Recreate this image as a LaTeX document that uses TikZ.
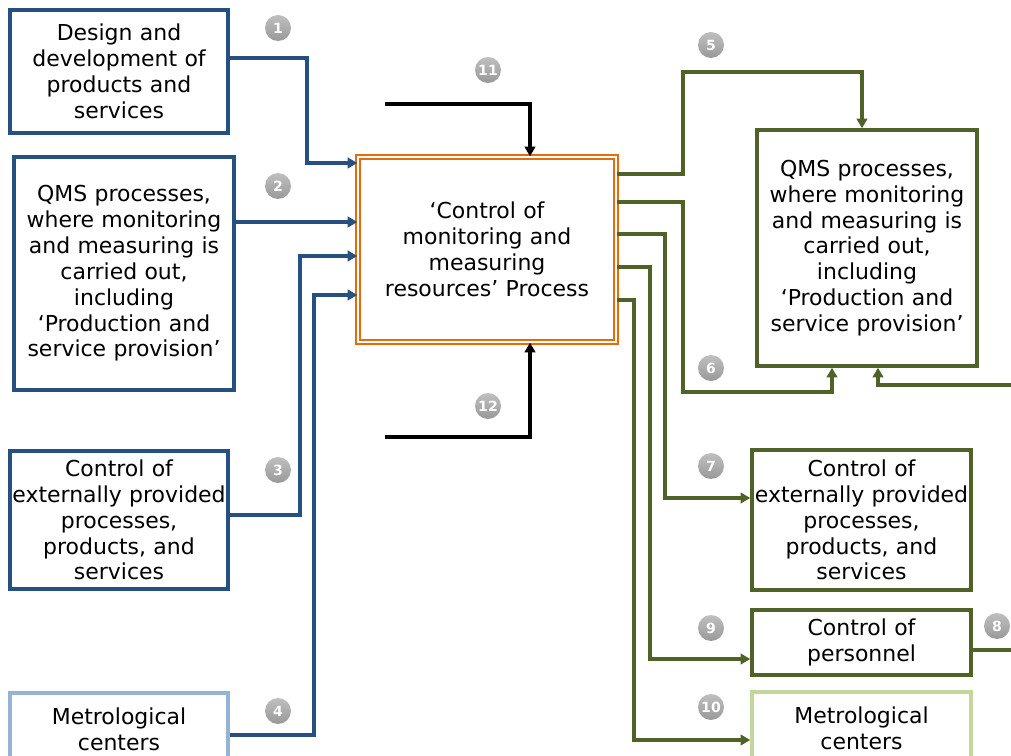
\documentclass[tikz,border=0pt]{standalone}
\usepackage{fontspec}
\setmainfont{DejaVu Sans}
\usetikzlibrary{arrows.meta}

\definecolor{qblue}{HTML}{25507F}
\definecolor{qlightblue}{HTML}{95B3D7}
\definecolor{qgreen}{HTML}{4F6228}
\definecolor{qlightgreen}{HTML}{C3D69B}
\definecolor{qorange}{HTML}{E46C0A}

\begin{document}
\begin{tikzpicture}[x=0.02cm,y=-0.02cm,
  box/.style={draw, line width=2pt, fill=white, align=center, inner sep=0pt,
    font=\fontsize{12.5}{14.7}\selectfont},
  bluebox/.style={box, draw=qblue},
  greenbox/.style={box, draw=qgreen},
  procbox/.style={box, draw=qorange, line width=0.8pt, double, double distance=1.5pt},
  badge/.style={circle, top color=gray!50, bottom color=gray!80, text=white, inner sep=0pt,
    minimum size=0.52cm, font=\bfseries\fontsize{8}{8}\selectfont},
  bluearr/.style={draw=qblue, line width=1.9pt, -{Triangle[length=5.5pt,width=6pt]}},
  greenarr/.style={draw=qgreen, line width=1.9pt, -{Triangle[length=5.5pt,width=6pt]}},
  blackarr/.style={draw=black, line width=1.9pt, -{Triangle[length=5.5pt,width=6pt]}}
]
\clip (0,0) rectangle (1011,756);

%% Inputs
\node[bluebox, minimum width=4.36cm, minimum height=2.46cm, text width=4.3cm] (design) at (119,71.5)
  {Design and\\ development of\\ products and\\ services};
\node[bluebox, minimum width=4.4cm, minimum height=4.66cm, text width=4.34cm] (qmsl) at (124,273.5)
  {QMS processes,\\ where monitoring\\ and measuring is\\ carried out,\\ including\\ `Production and\\ service provision'};
\node[bluebox, minimum width=4.36cm, minimum height=2.76cm, text width=4.3cm] (extl) at (119,520)
  {Control of\\ externally provided\\ processes,\\ products, and\\ services};
\node[bluebox, draw=qlightblue, minimum width=4.36cm, minimum height=1.44cm, text width=4.3cm] (metl) at (119,729)
  {Metrological\\ centers};

%% Process
\node[procbox, minimum width=5.16cm, minimum height=3.7cm, text width=5cm] (proc) at (487,249.5)
  {`Control of\\ monitoring and\\ measuring\\ resources' Process};

%% Outputs
\node[greenbox, minimum width=4.4cm, minimum height=4.72cm, text width=4.34cm] (qmsr) at (867,248)
  {QMS processes,\\ where monitoring\\ and measuring is\\ carried out,\\ including\\ `Production and\\ service provision'};
\node[greenbox, minimum width=4.38cm, minimum height=2.8cm, text width=4.32cm] (extr) at (861.5,520)
  {Control of\\ externally provided\\ processes,\\ products, and\\ services};
\node[greenbox, minimum width=4.38cm, minimum height=1.3cm, text width=4.32cm] (pers) at (861.5,642.5)
  {Control of\\ personnel};
\node[greenbox, draw=qlightgreen, minimum width=4.38cm, minimum height=1.46cm, text width=4.32cm] (metr) at (861.5,728.5)
  {Metrological\\ centers};

%% Badges
\node[badge] (n1) at (278,28) {1};
\node[badge] (n2) at (278,186) {2};
\node[badge] (n3) at (278,470) {3};
\node[badge] (n4) at (278,711) {4};
\node[badge] (n5) at (711,45) {5};
\node[badge] (n6) at (711,368) {6};
\node[badge] (n7) at (711,466) {7};
\node[badge] (n8) at (997,626) {8};
\node[badge] (n9) at (711,628) {9};
\node[badge] (n10) at (711,707) {10};
\node[badge] (n11) at (488,70) {11};
\node[badge] (n12) at (488,406) {12};

%% Input lines
\draw[bluearr] (design.east |- 0,58) -| (307,163) -- (proc.west |- 0,163);
\draw[bluearr] (qmsl.east |- 0,222) -- (proc.west |- 0,222);
\draw[bluearr] (extl.east |- 0,515) -| (300,256) -- (proc.west |- 0,256);
\draw[bluearr] (metl.east |- 0,735) -| (314,295) -- (proc.west |- 0,295);

%% Controls
\coordinate (in11) at (385,104);
\coordinate (in12) at (385,437);
\draw[blackarr] (in11) -| (proc.north -| 530,0);
\draw[blackarr] (in12) -| (proc.south -| 530,0);

%% Output lines
\draw[greenarr] (proc.east |- 0,174) -| (683,72) -| (qmsr.north -| 862,0);
\draw[greenarr] (proc.east |- 0,202) -| (683,392) -| (qmsr.south -| 832,0);
\draw[greenarr] (proc.east |- 0,234) -| (665,498) -- (extr.west |- 0,498);
\draw[greenarr] (proc.east |- 0,267) -| (650,659) -- (pers.west |- 0,659);
\draw[greenarr] (proc.east |- 0,300) -| (634,740) -- (metr.west |- 0,740);

%% Loop 8
\coordinate (out8) at (1011,650);
\coordinate (back8) at (1011,385);
\draw[draw=qgreen, line width=1.9pt] (pers.east |- out8) -- (out8);
\draw[greenarr] (back8) -| (qmsr.south -| 878,0);

\end{tikzpicture}
\end{document}
